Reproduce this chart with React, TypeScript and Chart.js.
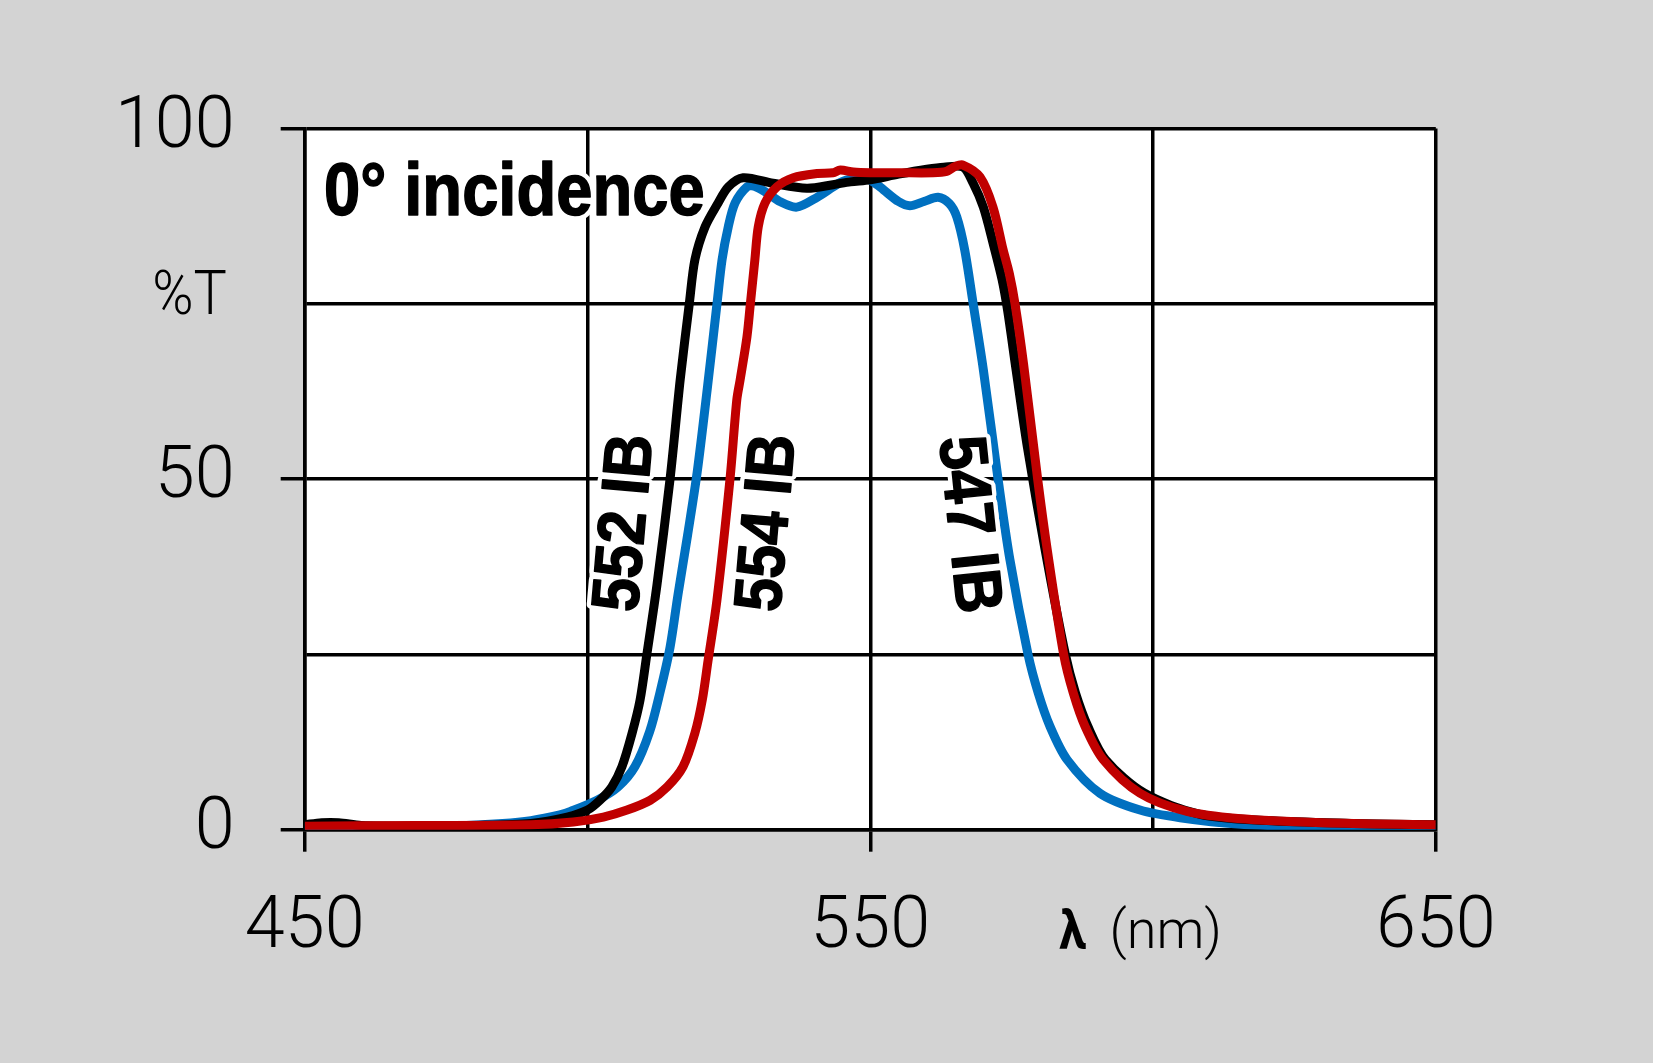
import React, { useEffect, useRef } from "react";
import { Chart, registerables } from "chart.js";

Chart.register(...registerables);

// Transmission spectra (% T vs wavelength in nm) at 0° incidence
const ib552Nm = [450, 453, 456, 460, 470, 480, 490, 496.4, 500, 502.2, 504.3, 506.1, 507.9, 509.3, 510.5, 512.3, 514.6, 516.4, 518, 519, 520.8, 523.1, 524.9, 527.5, 532.8, 538.8, 543.4, 546.5, 550, 555, 560, 563, 566.4, 568.2, 570, 571.7, 573.3, 574.3, 575.8, 577.8, 580.9, 584.5, 586.3, 588.5, 591.6, 598.5, 608.3, 620, 635, 650];
const ib552T = [0.7, 1.0, 1.0, 0.6, 0.5, 0.6, 0.9, 1.8, 2.8, 4.2, 6.1, 9, 13.8, 18.5, 25, 35, 50, 64.2, 75, 81.3, 86, 89.4, 91.7, 93, 92.2, 91.5, 92, 92.4, 92.7, 93.5, 94.2, 94.5, 94.5, 92.2, 88.8, 83.7, 78.5, 74, 65.5, 54.5, 40, 25, 19.5, 14.7, 10, 5.2, 2.2, 1.3, 0.9, 0.7];

const ib554Nm = [450, 465, 475, 485, 490, 495.1, 497, 501.7, 505.4, 508.4, 511, 512.8, 514.6, 516, 517.7, 519.4, 521.2, 522.9, 523.8, 524.9, 526.1, 528.2, 529.5, 531.8, 534, 537, 540.6, 544.7, 547, 548.8, 550.5, 552.3, 555, 557, 559.5, 562, 564, 565.3, 566.7, 568.2, 570, 572.6, 574.7, 577.9, 579.7, 581.8, 584.8, 590.6, 597.7, 604.8, 615, 630, 650];
const ib554T = [0.3, 0.3, 0.5, 0.9, 1.3, 2.1, 2.6, 4.2, 6.1, 9, 14, 19.5, 26, 33.5, 42, 51, 63, 75, 81.3, 86, 89.4, 91.7, 91.8, 90.8, 89.6, 88.8, 90.2, 92.3, 92.9, 93, 92.4, 91.3, 89.6, 89.0, 89.6, 90.2, 89.3, 87.4, 82.7, 75, 65.6, 50, 38.5, 25, 19.5, 14.7, 10, 5.2, 2.8, 1.7, 0.8, 0.4, 0.3];

const ib547Nm = [450, 470, 490, 497.5, 502.8, 507, 511.1, 514.1, 516.9, 519, 520.3, 521.3, 522.9, 525.2, 526.4, 527, 528.2, 528.8, 529.6, 530.2, 531.4, 533.5, 536.4, 540.6, 543.4, 544.7, 547, 550, 555, 561.1, 563.5, 565, 566.4, 569.4, 571.7, 573.5, 574.6, 575.6, 577.1, 579.6, 581.3, 584.2, 585.9, 588, 591.2, 597.7, 606, 615, 630, 650];
const ib547T = [0.5, 0.6, 0.7, 1.1, 1.8, 2.8, 4.2, 6.1, 9, 13.8, 18.5, 24, 32.8, 50, 61.3, 64.2, 70.3, 75, 81.3, 86, 89.4, 91.7, 93, 93.6, 93.7, 94.1, 93.8, 93.7, 93.7, 93.7, 93.9, 94.6, 94.8, 93.1, 88.8, 82.7, 79.3, 75, 66.5, 50, 39.9, 25, 19.5, 14.7, 10, 5.2, 2.6, 1.6, 1.0, 0.7];

// Axis tick labels
const xLabelValues = [450, 550, 650];
const yLabelValues = [0, 50, 100];

// Annotation texts and their anchors in data units
const titleText = "0° incidence";
const seriesNames = ["552 IB", "554 IB", "547 IB"];
const seriesNameNm = [506.9, 532.1, 567.1];
const seriesNameT = [43.75, 43.75, 43.5];
const seriesNameAngle = [-85, -85, 84];
const yUnitText = "%T";
const xUnitSymbol = "λ";
const xUnitText = "(nm)";

const toPoints = (nm: number[], t: number[]) => nm.map((x, i) => ({ x, y: t[i] }));

const LIGHT = "Roboto, 'Noto Sans', sans-serif";
const BOLD = "'Liberation Sans', Arial, sans-serif";

function drawText(
  ctx: CanvasRenderingContext2D,
  text: string,
  x: number,
  y: number,
  opts: {
    font: string;
    sx?: number;
    rot?: number;
    align?: CanvasTextAlign;
    baseline?: CanvasTextBaseline;
    halo?: number;
    heavy?: number;
  }
) {
  const { font, sx = 1, rot = 0, align = "left", baseline = "alphabetic", halo = 0, heavy = 0 } = opts;
  ctx.save();
  ctx.translate(x, y);
  ctx.rotate((rot * Math.PI) / 180);
  ctx.scale(sx, 1);
  ctx.font = font;
  ctx.textAlign = align;
  ctx.textBaseline = baseline;
  ctx.lineJoin = "round";
  if (halo > 0) {
    ctx.lineWidth = halo;
    ctx.strokeStyle = "#ffffff";
    ctx.strokeText(text, 0, 0);
  }
  ctx.fillStyle = "#000000";
  ctx.fillText(text, 0, 0);
  if (heavy > 0) {
    ctx.lineWidth = heavy;
    ctx.strokeStyle = "#000000";
    ctx.strokeText(text, 0, 0);
  }
  ctx.restore();
}

const annotations = {
  id: "annotations",
  beforeDraw(chart: any) {
    const { ctx, chartArea: a } = chart;
    ctx.save();
    ctx.fillStyle = "#ffffff";
    ctx.fillRect(a.left, a.top, a.right - a.left, a.bottom - a.top);
    ctx.restore();
  },
  afterDatasetsDraw(chart: any) {
    const ctx = chart.ctx;
    const xs = chart.scales.x;
    const ys = chart.scales.y;
    drawText(ctx, titleText, xs.getPixelForValue(453.4), ys.getPixelForValue(87.7), {
      font: `bold 74px ${BOLD}`,
      sx: 0.88,
      halo: 11,
      heavy: 1.5,
    });
    seriesNames.forEach((name, i) => {
      drawText(ctx, name, xs.getPixelForValue(seriesNameNm[i]), ys.getPixelForValue(seriesNameT[i]), {
        font: `bold 67px ${BOLD}`,
        sx: 0.9,
        rot: seriesNameAngle[i],
        align: "center",
        baseline: "middle",
        halo: 10,
        heavy: 1.5,
      });
    });
  },
  afterDraw(chart: any) {
    const ctx = chart.ctx;
    const xs = chart.scales.x;
    const ys = chart.scales.y;
    const a = chart.chartArea;
    drawText(ctx, yUnitText, a.left - 78, ys.getPixelForValue(73.6), {
      font: `300 62px ${LIGHT}`,
      sx: 0.9,
      align: "right",
    });
    drawText(ctx, xUnitSymbol, xs.getPixelForValue(583.4), a.bottom + 118, {
      font: `bold 54px ${LIGHT}`,
      sx: 0.9,
    });
    drawText(ctx, xUnitText, xs.getPixelForValue(592.3), a.bottom + 118, {
      font: `300 54px ${LIGHT}`,
    });
  },
};

export default function App() {
  const canvasRef = useRef<HTMLCanvasElement | null>(null);

  useEffect(() => {
    const canvas = canvasRef.current;
    if (!canvas) return;
    const lineStyle = {
      borderWidth: 9,
      borderJoinStyle: "round" as const,
      pointRadius: 0,
      fill: false,
      tension: 0.3,
    };
    const chart = new Chart(canvas, {
      type: "line",
      data: {
        datasets: [
          { label: "547 IB", data: toPoints(ib547Nm, ib547T), borderColor: "#c00000", order: 0, ...lineStyle },
          { label: "552 IB", data: toPoints(ib552Nm, ib552T), borderColor: "#000000", order: 1, ...lineStyle },
          { label: "554 IB", data: toPoints(ib554Nm, ib554T), borderColor: "#0070c0", order: 2, ...lineStyle },
        ],
      },
      options: {
        animation: false,
        responsive: false,
        devicePixelRatio: 1,
        layout: { padding: { left: 0, top: 128.6, right: 217.2, bottom: 83.3 } },
        plugins: { legend: { display: false }, tooltip: { enabled: false }, title: { display: false } },
        scales: {
          x: {
            type: "linear",
            min: 450,
            max: 650,
            afterFit: (s: any) => {
              s.height = 150;
            },
            grid: {
              color: "#000",
              lineWidth: 3.5,
              tickLength: 22,
              tickWidth: 3.5,
              tickColor: (c: any) => (c.tick && xLabelValues.includes(c.tick.value) ? "#000" : "rgba(0,0,0,0)"),
            },
            border: { color: "#000", width: 3.5 },
            ticks: {
              stepSize: 50,
              autoSkip: false,
              maxRotation: 0,
              padding: 34,
              color: "#000",
              font: { family: LIGHT, size: 72, weight: "300" as any },
              callback: (v: any) => (xLabelValues.includes(Number(v)) ? String(v) : ""),
            },
          },
          y: {
            type: "linear",
            min: 0,
            max: 100,
            afterFit: (s: any) => {
              s.width = 304.7;
            },
            grid: {
              color: "#000",
              lineWidth: 3.5,
              tickLength: 24,
              tickWidth: 3.5,
              tickColor: (c: any) => (c.tick && yLabelValues.includes(c.tick.value) ? "#000" : "rgba(0,0,0,0)"),
            },
            border: { color: "#000", width: 3.5 },
            ticks: {
              stepSize: 25,
              autoSkip: false,
              padding: 46,
              color: "#000",
              font: { family: LIGHT, size: 72, weight: "300" as any },
              callback: (v: any) => (yLabelValues.includes(Number(v)) ? String(v) : ""),
            },
          },
        },
      },
      plugins: [annotations],
    });
    return () => chart.destroy();
  }, []);

  return (
    <div style={{ position: "fixed", left: 0, top: 0, width: 1653, height: 1063, background: "#d3d3d3" }}>
      <canvas ref={canvasRef} width={1653} height={1063} style={{ display: "block" }} />
    </div>
  );
}
